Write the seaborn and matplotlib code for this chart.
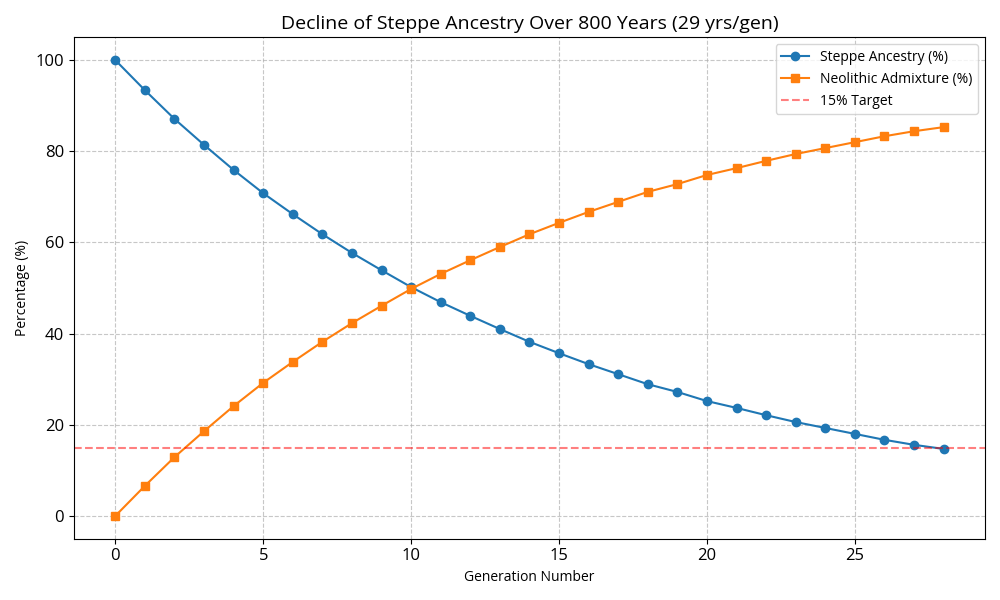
import matplotlib
matplotlib.use('Agg')
import matplotlib.pyplot as plt
import seaborn as sns
import pandas as pd

# values
generations = list(range(29))
steppe = [100.0, 93.4, 87.1, 81.4, 75.9, 70.8, 66.2, 61.8, 57.7, 53.9,
          50.2, 46.9, 43.9, 41.0, 38.2, 35.7, 33.3, 31.1, 28.9, 27.2,
          25.2, 23.7, 22.1, 20.6, 19.3, 18.0, 16.7, 15.6, 14.7]
neolithic = [0.0, 6.6, 12.9, 18.6, 24.1, 29.2, 33.8, 38.2, 42.3, 46.1,
             49.8, 53.1, 56.1, 59.0, 61.8, 64.3, 66.7, 68.9, 71.1, 72.8,
             74.8, 76.3, 77.9, 79.4, 80.7, 82.0, 83.3, 84.4, 85.3]
target = 15

plt.rcParams['font.family'] = ['Open Sans', 'DejaVu Sans']

df = pd.DataFrame({'gen': generations, 'steppe': steppe, 'neolithic': neolithic})

fig, ax = plt.subplots(figsize=(10, 6), dpi=100)
sns.lineplot(data=df, x='gen', y='steppe', marker='o', markersize=6,
             markeredgewidth=1, markeredgecolor='#1f77b4', color='#1f77b4',
             label='Steppe Ancestry (%)', ax=ax)
sns.lineplot(data=df, x='gen', y='neolithic', marker='s', markersize=6,
             markeredgewidth=1, markeredgecolor='#ff7f0e', color='#ff7f0e',
             label='Neolithic Admixture (%)', ax=ax)
ax.axhline(target, color='red', linestyle='--', alpha=0.5, label='15% Target')

ax.set_title('Decline of Steppe Ancestry Over 800 Years (29 yrs/gen)', fontsize=14)
ax.set_xlabel('Generation Number')
ax.set_ylabel('Percentage (%)')
ax.tick_params(labelsize=12)
ax.grid(True, linestyle='--', alpha=0.7)
ax.legend(loc='upper right')

plt.tight_layout()
plt.savefig('out.png')
